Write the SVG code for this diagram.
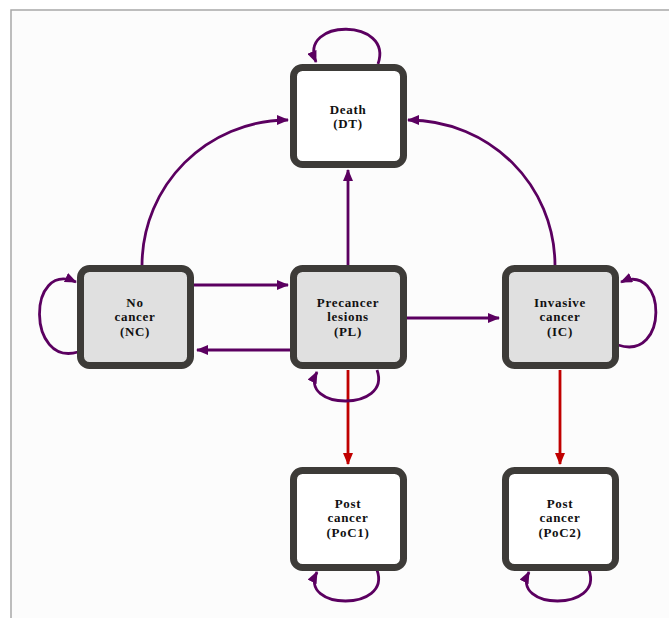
<svg xmlns="http://www.w3.org/2000/svg" width="669" height="618" viewBox="0 0 669 618">
<defs>
<marker id="ap" viewBox="0 0 12 10" refX="11" refY="5" markerWidth="12" markerHeight="10" markerUnits="userSpaceOnUse" orient="auto">
<path d="M0,0 L12,5 L0,10 Z" fill="#5b0060"/>
</marker>
<marker id="ar" viewBox="0 0 12 10" refX="11" refY="5" markerWidth="12" markerHeight="10" markerUnits="userSpaceOnUse" orient="auto">
<path d="M0,0 L12,5 L0,10 Z" fill="#c00000"/>
</marker>
</defs>
<style>
.box{stroke:#3d3b38;stroke-width:7;}
.w{fill:#ffffff;}
.g{fill:#e0e0e0;}
text{font-family:"Liberation Serif","Times New Roman",serif;font-weight:bold;font-size:13px;letter-spacing:0.7px;fill:#111;text-anchor:middle;}
.p{fill:none;stroke:#5b0060;stroke-width:2.8;marker-end:url(#ap);}
.r{fill:none;stroke:#c00000;stroke-width:2.8;marker-end:url(#ar);}
</style>
<rect x="0" y="0" width="669" height="618" fill="#ffffff"/>
<rect x="11" y="10" width="700" height="700" fill="#fcfcfc" stroke="#a8a8a8" stroke-width="1.5"/>
<g id="connectors">
<path class="p" d="M142,266 C142,185 207,120 288,120"/>
<path class="p" d="M555,266 C555,185 490,120 408,120"/>
<path class="p" d="M348,266 L348,170"/>
<path class="p" d="M193,285 L288,285"/>
<path class="p" d="M290,350 L197,350"/>
<path class="p" d="M406,318 L499,318"/>
<path class="r" d="M348,370 L348,464"/>
<path class="r" d="M560,370 L560,464"/>
<path class="p" d="M378,64 C394,18 298,18 316,62"/>
<path class="p" d="M78,352 C27,367 27,260 76,282"/>
<path class="p" d="M377,370 C392,412 298,410 317,372"/>
<path class="p" d="M618,345 C669,362 667,262 621,282"/>
<path class="p" d="M377,570 C392,612 298,610 317,572"/>
<path class="p" d="M589,570 C604,612 510,610 529,572"/>
</g>
<g id="DT">
<rect class="box w" x="293.5" y="67.5" width="110" height="97" rx="9"/>
<text x="348" y="113.5">Death</text>
<text x="348" y="128">(DT)</text>
</g>
<g id="NC">
<rect class="box g" x="80.5" y="268.5" width="110" height="97" rx="9"/>
<text x="135" y="306.5">No</text>
<text x="135" y="321">cancer</text>
<text x="135" y="335.5">(NC)</text>
</g>
<g id="PL">
<rect class="box g" x="293.5" y="268.5" width="110" height="97" rx="9"/>
<text x="348" y="306.5">Precancer</text>
<text x="348" y="321">lesions</text>
<text x="348" y="335.5">(PL)</text>
</g>
<g id="IC">
<rect class="box g" x="505.5" y="268.5" width="110" height="97" rx="9"/>
<text x="560" y="306.5">Invasive</text>
<text x="560" y="321">cancer</text>
<text x="560" y="335.5">(IC)</text>
</g>
<g id="PoC1">
<rect class="box w" x="293.5" y="470.5" width="110" height="97" rx="9"/>
<text x="348" y="507.5">Post</text>
<text x="348" y="522">cancer</text>
<text x="348" y="536.5">(PoC1)</text>
</g>
<g id="PoC2">
<rect class="box w" x="505.5" y="470.5" width="110" height="97" rx="9"/>
<text x="560" y="507.5">Post</text>
<text x="560" y="522">cancer</text>
<text x="560" y="536.5">(PoC2)</text>
</g>
</svg>
